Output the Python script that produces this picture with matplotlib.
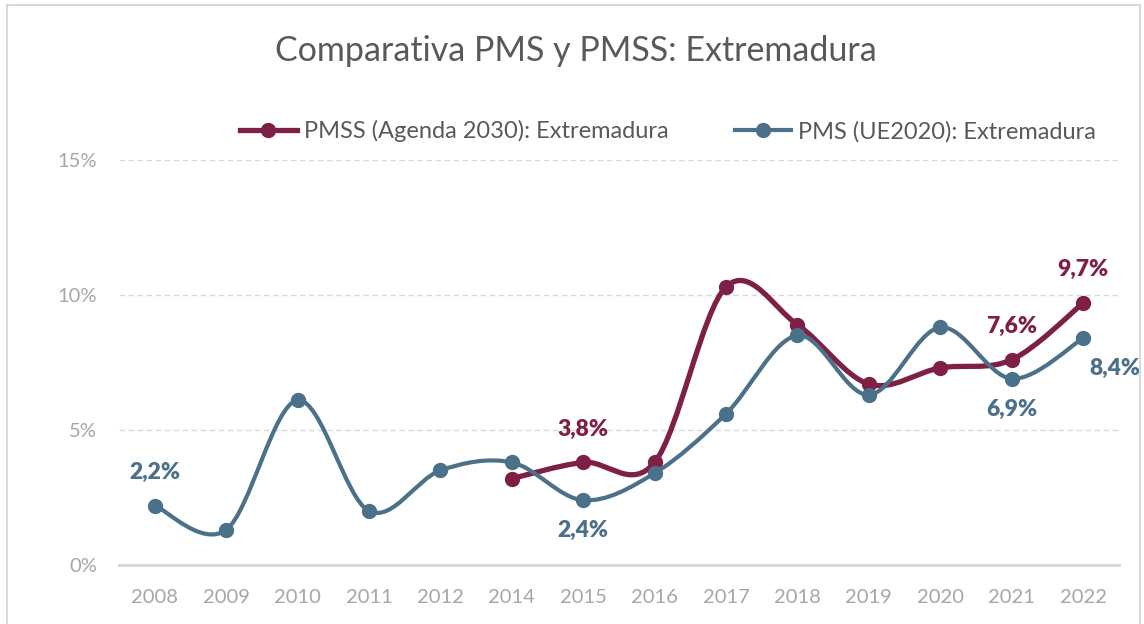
import numpy as np
import matplotlib
matplotlib.use("Agg")
import matplotlib.pyplot as plt
from matplotlib.path import Path
from matplotlib.patches import PathPatch, Rectangle
from matplotlib.lines import Line2D

# chart data (percent)
years = ["2008", "2009", "2010", "2011", "2012", "2014", "2015",
         "2016", "2017", "2018", "2019", "2020", "2021", "2022"]
pms = [2.2, 1.3, 6.1, 2.0, 3.5, 3.8, 2.4, 3.4, 5.6, 8.5, 6.3, 8.8, 6.9, 8.4]
pmss_years = ["2014", "2015", "2016", "2017", "2018", "2019", "2020", "2021", "2022"]
pmss = [3.2, 3.8, 3.8, 10.3, 8.9, 6.7, 7.3, 7.6, 9.7]

pms_label = "PMS (UE2020): Extremadura"
pmss_label = "PMSS (Agenda 2030): Extremadura"
title = "Comparativa PMS y PMSS: Extremadura"

# labelled points: year -> placement
pms_marks = {"2008": "above", "2015": "below", "2021": "below", "2022": "right"}
pmss_marks = {"2015": "above", "2021": "above", "2022": "above"}

MAROON = "#7E1F45"
BLUE = "#4B7089"
GREY_TXT = "#A6A6A6"
TITLE_TXT = "#595959"
GRID = "#D9D9D9"

plt.rcParams["font.family"] = ["Lato", "DejaVu Sans"]


def smooth_path(x, y):
    # Excel-like smoothed line: cubic bezier through each point (Catmull-Rom)
    pts = np.column_stack([x, y]).astype(float)
    ext = np.vstack([pts[0], pts, pts[-1]])
    verts = [pts[0]]
    codes = [Path.MOVETO]
    for i in range(len(pts) - 1):
        p0, p1, p2, p3 = ext[i], ext[i + 1], ext[i + 2], ext[i + 3]
        c1 = p1 + (p2 - p0) / 6.0
        c2 = p2 - (p3 - p1) / 6.0
        verts += [c1, c2, p2]
        codes += [Path.CURVE4] * 3
    return Path(verts, codes)


def fmt(v):
    return f"{v:.1f}".replace(".", ",") + "%"


fig = plt.figure(figsize=(11.44, 6.24), dpi=100)
fig.patches.append(Rectangle((7 / 1144, -0.1), 1133 / 1144, 1.1 - 5 / 624,
                             transform=fig.transFigure, fill=False,
                             edgecolor=GRID, linewidth=1.5))
ax = fig.add_axes([0.104, 0.0946, 0.874, 0.649])

xi = np.arange(len(years))
xm = np.array([years.index(y) for y in pmss_years])

ax.add_patch(PathPatch(smooth_path(xm, pmss), fill=False, edgecolor=MAROON,
                       linewidth=3.8, capstyle="round", joinstyle="round", zorder=3))
ax.plot(xm, pmss, "o", color=MAROON, markersize=10, zorder=4)
ax.add_patch(PathPatch(smooth_path(xi, pms), fill=False, edgecolor=BLUE,
                       linewidth=3.0, capstyle="round", joinstyle="round", zorder=5))
ax.plot(xi, pms, "o", color=BLUE, markersize=10, zorder=6)

offsets = {"above": (0, 24), "below": (0, -22), "right": (23, -22)}
for series_years, values, marks, col in [(years, pms, pms_marks, BLUE),
                                         (pmss_years, pmss, pmss_marks, MAROON)]:
    for yr, where in marks.items():
        v = values[series_years.index(yr)]
        dx, dy = offsets[where]
        ax.annotate(fmt(v), (years.index(yr), v), xytext=(dx, dy),
                    textcoords="offset points", ha="center", va="center",
                    color=col, fontsize=16.5, fontweight="heavy", zorder=7)

ax.set_xlim(-0.5, len(years) - 0.5)
ax.set_ylim(0, 15)
ax.set_xticks(xi)
ax.set_xticklabels(years)
ax.set_yticks([0, 5, 10, 15])
ax.set_yticklabels(["0%", "5%", "10%", "15%"])
ax.tick_params(axis="both", length=0, colors=GREY_TXT, labelsize=14.5)
ax.tick_params(axis="x", pad=17.5)
ax.tick_params(axis="y", pad=16)
for s in ["left", "right", "top"]:
    ax.spines[s].set_visible(False)
ax.spines["bottom"].set_color(GRID)
ax.spines["bottom"].set_linewidth(2.2)
for gy in [5, 10, 15]:
    ax.axhline(gy, color=GRID, linestyle=(0, (4, 2.5)), linewidth=1.0, zorder=1)

fig.text(0.503, 0.918, title, ha="center", va="center", fontsize=24.5,
         color=TITLE_TXT)

handles = [Line2D([], [], color=MAROON, lw=3.8, marker="o", markersize=10),
           Line2D([], [], color=BLUE, lw=3.0, marker="o", markersize=10)]
fig.legend(handles, [pmss_label, pms_label], ncol=2, loc="center",
           bbox_to_anchor=(0.584, 0.79), frameon=False, fontsize=17,
           labelcolor=TITLE_TXT, handlelength=2.4, handletextpad=0.3,
           columnspacing=2.8)

fig.savefig("out.png", dpi=100)
